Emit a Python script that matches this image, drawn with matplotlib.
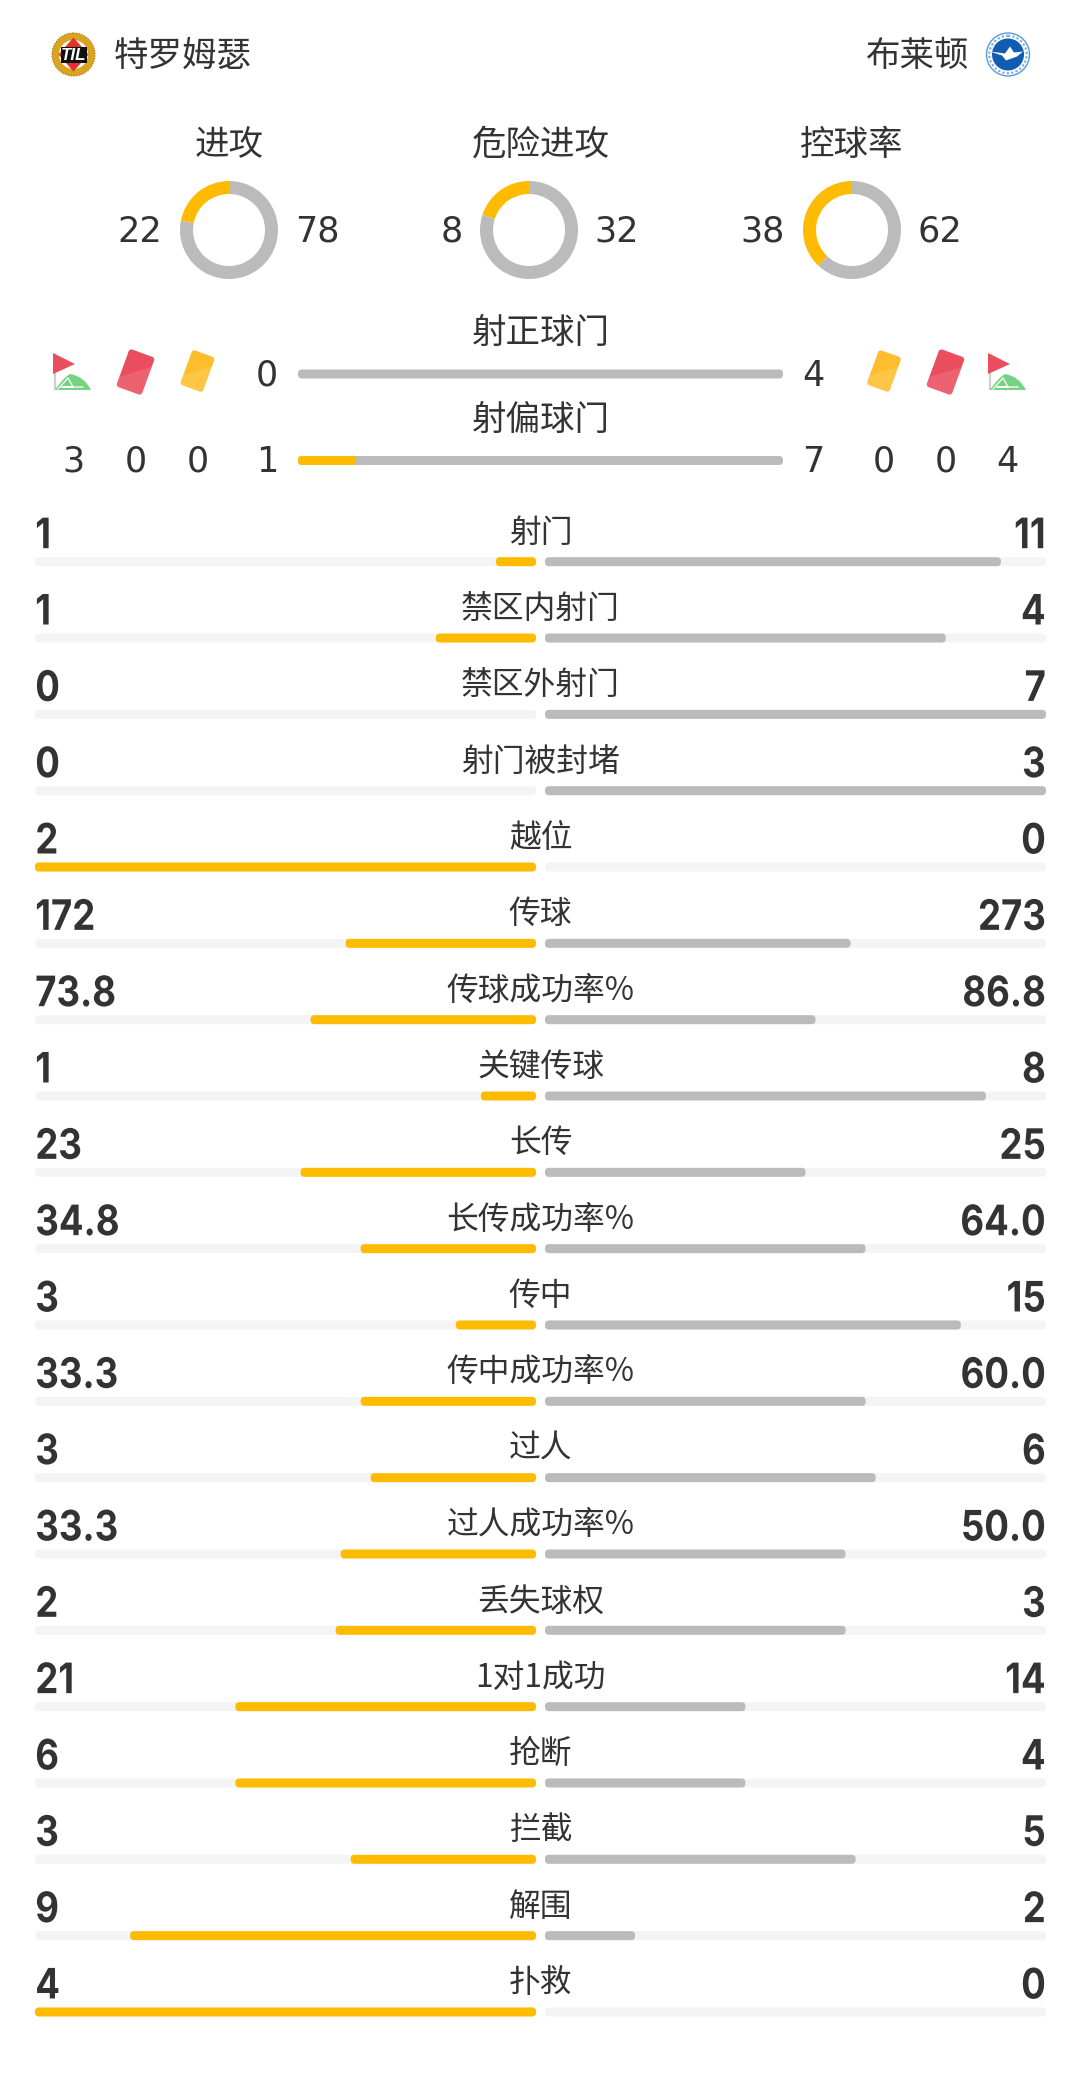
import matplotlib
matplotlib.use("Agg")
import matplotlib.pyplot as plt
from matplotlib.patches import Circle, FancyBboxPatch, Polygon, PathPatch
from matplotlib.patheffects import AbstractPathEffect
from matplotlib.path import Path
from matplotlib.transforms import Affine2D

plt.rcParams['font.family'] = ['Noto Sans CJK SC', 'DejaVu Sans']

home_team = "特罗姆瑟"
away_team = "布莱顿"

donut_titles = ["进攻", "危险进攻", "控球率"]
donut_home = [22, 8, 38]
donut_away = [78, 32, 62]

shot_titles = ["射正球门", "射偏球门"]
shot_home = [0, 1]
shot_away = [4, 7]
shot_pct = [0, 12]
corners = [3, 4]
reds = [0, 0]
yellows = [0, 0]

stat_names = ["射门", "禁区内射门", "禁区外射门", "射门被封堵", "越位", "传球", "传球成功率%",
              "关键传球", "长传", "长传成功率%", "传中", "传中成功率%", "过人", "过人成功率%",
              "丢失球权", "1对1成功", "抢断", "拦截", "解围", "扑救"]
stat_home = ["1", "1", "0", "0", "2", "172", "73.8", "1", "23", "34.8", "3", "33.3", "3", "33.3",
             "2", "21", "6", "3", "9", "4"]
stat_away = ["11", "4", "7", "3", "0", "273", "86.8", "8", "25", "64.0", "15", "60.0", "6", "50.0",
             "3", "14", "4", "5", "2", "0"]
# bar lengths in percent of the half track
home_pct = [8, 20, 0, 0, 100, 38, 45, 11, 47, 35, 16, 35, 33, 39, 40, 60, 60, 37, 81, 100]
away_pct = [91, 80, 100, 100, 0, 61, 54, 88, 52, 64, 83, 64, 66, 60, 60, 40, 40, 62, 18, 0]

YELLOW = "#FFBB00"
GREY = "#BBBBBB"
TRACK = "#F4F4F4"
TEXT = "#333333"
RED = "#EA4D5E"
CARD_Y = "#FFBD2E"
GREEN = "#78D283"
W, H = 1080, 2074
DIGITS = "DejaVu Sans"


def px(size):
    return size * 0.72


class Narrow(AbstractPathEffect):
    # squeezes the text sideways, keeps it a normal Text artist
    def __init__(self, sx, right=False):
        super().__init__()
        self.sx = sx
        self.right = right

    def draw_path(self, renderer, gc, tpath, affine, rgbFace=None):
        x0 = tpath.get_extents().x1 if self.right else tpath.get_extents().x0
        squeeze = Affine2D().translate(-x0, 0).scale(self.sx, 1).translate(x0, 0)
        renderer.draw_path(gc, tpath, squeeze + affine, rgbFace)


fig = plt.figure(figsize=(W / 100, H / 100), dpi=100, facecolor="white")
ax = fig.add_axes([0, 0, 1, 1])
ax.set_xlim(0, W)
ax.set_ylim(H, 0)
ax.axis("off")


def bar(x0, x1, y, color, h=9, z=2):
    if x1 - x0 <= 0:
        return
    ax.add_patch(FancyBboxPatch((x0 + 4, y - h / 2 + 4), max(x1 - x0 - 8, 0.1), h - 8,
                                boxstyle="round,pad=4", fc=color, ec="none", zorder=z))


def card(cx, cy, w, h, color):
    rot = Affine2D().rotate_deg_around(cx, cy, 20) + ax.transData
    body = FancyBboxPatch((cx - w / 2 + 3, cy - h / 2 + 3), w - 6, h - 6, boxstyle="round,pad=3",
                          fc=color, ec="none", zorder=3)
    body.set_transform(rot)
    ax.add_patch(body)
    shade = Polygon([(cx + w / 2, cy - h / 4), (cx + w / 2, cy + h / 2), (cx - w / 2, cy + h / 2),
                     (cx - w / 2, cy + h / 4)], fc="white", ec="none", alpha=0.12, zorder=4)
    shade.set_transform(rot)
    ax.add_patch(shade)
    shade.set_clip_path(body)


def corner_flag(x):
    ax.plot([x + 1.5, x + 1.5], [354, 390], color="#CFCFCF", lw=1.6, zorder=3, solid_capstyle="butt")
    ax.add_patch(Polygon([(x, 353), (x + 22, 364), (x, 374)], fc=RED, ec="none", zorder=4))
    verts = [(x + 2, 390), (x + 10, 378), (x + 17, 374), (x + 31, 376), (x + 38, 390), (x + 2, 390)]
    codes = [Path.MOVETO, Path.CURVE3, Path.CURVE3, Path.CURVE3, Path.CURVE3, Path.CLOSEPOLY]
    ax.add_patch(PathPatch(Path(verts, codes), fc=GREEN, ec="none", zorder=3))
    ax.plot([x + 5, x + 15, x + 20, x + 9, x + 30], [389, 378, 387, 387, 387], color="white", lw=0.9, zorder=4)


def til_crest(cx, cy):
    ax.add_patch(Circle((cx, cy), 21.5, fc="#D9A520", ec="#A8791A", lw=0.8, ls=(0, (1.2, 1.2)), zorder=3))
    ax.add_patch(Circle((cx, cy), 14.5, fc="white", ec="none", zorder=4))
    ax.add_patch(Polygon([(cx, cy - 17), (cx + 15, cy), (cx, cy + 17), (cx - 15, cy)], fc="#E4312B", ec="none", zorder=5))
    ax.add_patch(Polygon([(cx - 13, cy - 8), (cx + 13, cy - 8), (cx + 13, cy + 8), (cx - 13, cy + 8)],
                         fc="#111111", ec="none", zorder=6))
    ax.text(cx, cy + 0.5, "TIL", color="white", fontsize=px(17), fontweight="bold", style="italic",
            family="Liberation Sans", ha="center", va="center", zorder=7)


def brighton_crest(cx, cy):
    ax.add_patch(Circle((cx, cy), 21.5, fc="white", ec="#5B9BD5", lw=1.0, zorder=3))
    ax.add_patch(Circle((cx, cy), 18.7, fc="none", ec="#7FAEDC", lw=1.6, ls=(0, (1, 1)), zorder=3))
    ax.add_patch(Circle((cx, cy), 16, fc="#0F5CB0", ec="none", zorder=4))
    ax.add_patch(Polygon([(cx - 18, cy - 3), (cx - 3, cy - 1), (cx + 2, cy - 8), (cx + 6, cy - 2), (cx + 15, cy - 3),
                          (cx + 9, cy + 2), (cx - 2, cy + 6), (cx - 6, cy + 1)], fc="white", ec="none", zorder=5))


# header
til_crest(73.5, 54.5)
brighton_crest(1008, 54.5)
ax.text(114, 56.5, home_team, fontsize=px(34.5), color=TEXT, ha="left", va="center")
ax.text(969, 56.5, away_team, fontsize=px(34.5), color=TEXT, ha="right", va="center")

# donuts
title_x = [229, 541, 852]
donut_x = [229, 529, 852]
home_x = [140, 452, 763]
away_x = [317, 617, 940]
for i in range(3):
    ax.text(title_x[i], 145.5, donut_titles[i], fontsize=px(34.5), color=TEXT, ha="center", va="center")
    ax.text(home_x[i], 241.5, str(donut_home[i]), fontsize=px(35), family=DIGITS, color=TEXT, ha="center", va="baseline")
    ax.text(away_x[i], 241.5, str(donut_away[i]), fontsize=px(35), family=DIGITS, color=TEXT, ha="center", va="baseline")
    sub = fig.add_axes([(donut_x[i] - 50) / W, 1 - (230 + 50) / H, 100 / W, 100 / H])
    sub.pie([donut_home[i], donut_away[i]], colors=[YELLOW, GREY], startangle=90, radius=0.98,
            wedgeprops=dict(width=0.26, linewidth=0))
    sub.set_xlim(-1, 1)
    sub.set_ylim(-1, 1)

# shots on / off target
rows_y = [374, 460.5]
for i in range(2):
    ax.text(541, [334.5, 421][i], shot_titles[i], fontsize=px(34.5), color=TEXT, ha="center", va="center")
    bar(298, 783, rows_y[i], GREY)
    if shot_pct[i]:
        x1 = 298 + 485 * shot_pct[i] / 100
        ax.add_patch(FancyBboxPatch((302, rows_y[i] - 0.5), 10, 1, boxstyle="round,pad=4", fc=YELLOW, ec="none", zorder=3))
        ax.fill_between([306, x1], rows_y[i] - 4.5, rows_y[i] + 4.5, color=YELLOW, lw=0, zorder=3)
    base = [385.7, 471.7][i]
    ax.text(267, base, str(shot_home[i]), fontsize=px(35), family=DIGITS, color=TEXT, ha="center", va="baseline")
    ax.text(813, base, str(shot_away[i]), fontsize=px(35), family=DIGITS, color=TEXT, ha="center", va="baseline")

ax.text(73.5, 471.7, str(corners[0]), fontsize=px(35), family=DIGITS, color=TEXT, ha="center", va="baseline")
ax.text(135.5, 471.7, str(reds[0]), fontsize=px(35), family=DIGITS, color=TEXT, ha="center", va="baseline")
ax.text(197.5, 471.7, str(yellows[0]), fontsize=px(35), family=DIGITS, color=TEXT, ha="center", va="baseline")
ax.text(884, 471.7, str(yellows[1]), fontsize=px(35), family=DIGITS, color=TEXT, ha="center", va="baseline")
ax.text(945.5, 471.7, str(reds[1]), fontsize=px(35), family=DIGITS, color=TEXT, ha="center", va="baseline")
ax.text(1007, 471.7, str(corners[1]), fontsize=px(35), family=DIGITS, color=TEXT, ha="center", va="baseline")

corner_flag(53)
card(135.5, 372, 27, 40, RED)
card(197.5, 371, 24, 37, CARD_Y)
card(884, 371, 24, 37, CARD_Y)
card(945.5, 372, 27, 40, RED)
corner_flag(988)

# stat rows
LEFT0, LEFT1 = 35, 536
RIGHT0, RIGHT1 = 545, 1046
for i, name in enumerate(stat_names):
    y = 561.7 + 76.33 * i
    bar(LEFT0, LEFT1, y, TRACK, z=1)
    bar(RIGHT0, RIGHT1, y, TRACK, z=1)
    bar(LEFT1 - (LEFT1 - LEFT0) * home_pct[i] / 100, LEFT1, y, YELLOW)
    bar(RIGHT0, RIGHT0 + (RIGHT1 - RIGHT0) * away_pct[i] / 100, y, GREY)
    ax.text(540.5, y - 29, name, fontsize=px(31.8), color=TEXT, ha="center", va="center")
    ax.text(LEFT0, y - 13.5, stat_home[i], fontsize=px(42), color=TEXT, family="Inter", fontweight="bold",
            ha="left", va="baseline", path_effects=[Narrow(0.87)])
    ax.text(RIGHT1, y - 13.5, stat_away[i], fontsize=px(42), color=TEXT, family="Inter", fontweight="bold",
            ha="right", va="baseline", path_effects=[Narrow(0.87, right=True)])

fig.savefig("out.png", dpi=100, facecolor="white")
